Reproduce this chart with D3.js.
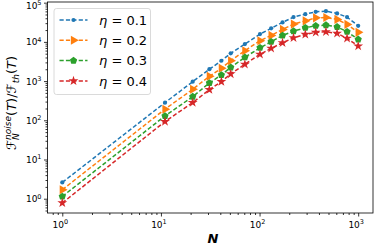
<!DOCTYPE html>
<html lang="en">
<head>
<meta charset="UTF-8">
<title>Noise ratio vs N</title>
<script src="https://cdn.jsdelivr.net/npm/d3@7"></script>
<style>
  body { margin: 0; background: #fff; }
  svg { display: block; font-family: "DejaVu Sans", sans-serif; }
</style>
</head>
<body>
<div id="container"></div>
<script>
// data
const N = [1, 11, 21, 31, 41, 51, 71, 101, 131, 171, 221, 291, 371, 471, 611, 771, 1000];
const eta01 = [2.6, 282, 966, 2010, 3300, 5100, 8790, 15800, 22100, 31400, 42800, 51000, 58400, 60800, 53100, 42800, 25700];
const eta02 = [1.69, 192, 618, 1325, 2120, 3300, 5940, 10700, 14600, 20800, 28400, 34400, 41000, 42000, 37400, 27900, 17500];
const eta03 = [1.14, 129, 401, 895, 1430, 2240, 4040, 7080, 10060, 14600, 18800, 22900, 25700, 26700, 24200, 18100, 11600];
const eta04 = [0.78, 93, 282, 604, 966, 1520, 2680, 4810, 6840, 9490, 12700, 15500, 17500, 18100, 16500, 12300, 7820];
const etaLabels = ["0.1", "0.2", "0.3", "0.4"];
const xTicks = [1, 10, 100, 1000];
const yTicks = [1, 10, 100, 1000, 10000, 100000];

const W = 374, H = 250;
const mLeft = 47.5, mRight = 373, mTop = 2, mBottom = 213;
const colors = ["#1f77b4", "#ff7f0e", "#2ca02c", "#d62728"];

let svg = d3.select("#container").append("svg")
    .attr("width", W).attr("height", H);

let x = d3.scaleLog().domain([0.708, 1413]).range([mLeft, mRight]);
let y = d3.scaleLog().domain([0.432, 1.04e5]).range([mBottom, mTop]);

// minor tick values for a log range
function minors(lo, hi) {
    let out = [];
    for (let e = lo; e <= hi; e++)
        for (let k = 2; k <= 9; k++) out.push(k * Math.pow(10, e));
    return out;
}

// axes
let gx = svg.append("g").attr("transform", "translate(0," + mBottom + ")");
gx.call(d3.axisBottom(x).tickValues(xTicks).tickFormat("").tickSize(3.5).tickSizeOuter(0));
let gxm = svg.append("g").attr("transform", "translate(0," + mBottom + ")");
gxm.call(d3.axisBottom(x).tickValues(minors(-1, 3).filter(v => v > 0.708 && v < 1413)).tickFormat("").tickSize(2).tickSizeOuter(0));

let gy = svg.append("g").attr("transform", "translate(" + mLeft + ",0)");
gy.call(d3.axisLeft(y).tickValues(yTicks).tickFormat("").tickSize(3.5).tickSizeOuter(0));
let gym = svg.append("g").attr("transform", "translate(" + mLeft + ",0)");
gym.call(d3.axisLeft(y).tickValues(minors(-1, 4).filter(v => v > 0.432 && v < 1.04e5)).tickFormat("").tickSize(2).tickSizeOuter(0));

svg.selectAll(".domain").remove();
svg.selectAll(".tick line").attr("stroke", "#000").attr("stroke-width", 0.8);

// power-of-ten labels
xTicks.forEach(v => {
    let t = svg.append("text")
        .attr("x", x(v) - 2).attr("y", mBottom + 15)
        .attr("text-anchor", "middle").attr("font-size", 9).attr("fill", "#000");
    t.append("tspan").text("10");
    t.append("tspan").attr("font-size", 6.5).attr("dy", -4).text(Math.round(Math.log10(v)));
});
yTicks.forEach(v => {
    let t = svg.append("text")
        .attr("x", mLeft - 6).attr("y", Math.max(y(v) + 3.5, 9))
        .attr("text-anchor", "end").attr("font-size", 9).attr("fill", "#000");
    t.append("tspan").text("10");
    t.append("tspan").attr("font-size", 6.5).attr("dy", -3.6).text(Math.round(Math.log10(v)));
});

// series
const series = [eta01, eta02, eta03, eta04];
let line = d3.line().x(d => x(d[0])).y(d => y(d[1]));

let pentagon = {
    draw(ctx, size) {
        let r = Math.sqrt(size / 2.3776);
        for (let i = 0; i < 5; i++) {
            let a = -Math.PI / 2 + i * 2 * Math.PI / 5;
            if (i === 0) ctx.moveTo(r * Math.cos(a), r * Math.sin(a));
            else ctx.lineTo(r * Math.cos(a), r * Math.sin(a));
        }
        ctx.closePath();
    }
};
const markers = [
    { type: d3.symbolCircle, size: 14, rot: 0 },
    { type: d3.symbolTriangle, size: 36, rot: 90 },
    { type: pentagon, size: 34, rot: 0 },
    { type: d3.symbolStar, size: 30, rot: 0 }
];

function drawMarker(g, i, cx, cy) {
    g.append("path")
        .attr("d", d3.symbol().type(markers[i].type).size(markers[i].size)())
        .attr("transform", "translate(" + cx + "," + cy + ") rotate(" + markers[i].rot + ")")
        .attr("fill", colors[i]);
}

series.forEach((vals, i) => {
    let pts = N.map((n, j) => [n, vals[j]]);
    svg.append("path")
        .datum(pts)
        .attr("d", line)
        .attr("fill", "none")
        .attr("stroke", colors[i])
        .attr("stroke-width", 1.5)
        .attr("stroke-dasharray", "4.2,2.2");
    let g = svg.append("g");
    pts.forEach(p => drawMarker(g, i, x(p[0]), y(p[1])));
});

// frame
svg.append("rect")
    .attr("x", mLeft).attr("y", mTop)
    .attr("width", mRight - mLeft).attr("height", mBottom - mTop)
    .attr("fill", "none").attr("stroke", "#000").attr("stroke-width", 0.8);

// legend
let lg = svg.append("g");
lg.append("rect")
    .attr("x", 54).attr("y", 8.5).attr("width", 96.5).attr("height", 86)
    .attr("rx", 2.5).attr("fill", "#fff").attr("fill-opacity", 0.8)
    .attr("stroke", "#d0d0d0").attr("stroke-width", 0.8);
etaLabels.forEach((lab, i) => {
    let cy = 20 + i * 20.3;
    lg.append("line")
        .attr("x1", 59.5).attr("x2", 87.5).attr("y1", cy).attr("y2", cy)
        .attr("stroke", colors[i]).attr("stroke-width", 1.5)
        .attr("stroke-dasharray", "4.2,2.2");
    drawMarker(lg, i, 73.5, cy);
    let t = lg.append("text")
        .attr("x", 99).attr("y", cy + 4.8)
        .attr("font-size", 13).attr("fill", "#000");
    t.append("tspan").attr("font-style", "italic").text("η");
    t.append("tspan").text(" = " + lab);
});

// x label
svg.append("text")
    .attr("x", 213).attr("y", 243)
    .attr("text-anchor", "middle")
    .attr("font-size", 13).attr("font-style", "italic").attr("font-weight", "bold")
    .text("N");

// y label, laid out piece by piece in a rotated group
let yl = svg.append("g").attr("transform", "translate(16,103) rotate(-90)");
const pieces = [
    { t: "ℱ", fs: 13, dy: 0, it: false },
    { t: "noise", fs: 9, dy: -5.5, it: true, stack: "N" },
    { t: "(", fs: 13, dy: 0, it: false },
    { t: "T", fs: 13, dy: 0, it: true },
    { t: ")/", fs: 13, dy: 0, it: false },
    { t: "ℱ", fs: 13, dy: 0, it: false },
    { t: "th", fs: 9, dy: 3, it: true },
    { t: "(", fs: 13, dy: 0, it: false },
    { t: "T", fs: 13, dy: 0, it: true },
    { t: ")", fs: 13, dy: 0, it: false }
];
let cx = 0;
pieces.forEach(p => {
    let el = yl.append("text")
        .attr("x", cx).attr("y", p.dy)
        .attr("font-size", p.fs)
        .attr("font-style", p.it ? "italic" : "normal")
        .attr("fill", "#000").text(p.t);
    let w = el.node().getComputedTextLength();
    if (p.stack) {
        yl.append("text")
            .attr("x", cx).attr("y", 3)
            .attr("font-size", p.fs).attr("font-style", "italic")
            .attr("fill", "#000").text(p.stack);
    }
    cx += w;
});
// center the label on its anchor
yl.selectAll("text").attr("x", function () { return +d3.select(this).attr("x") - cx / 2; });
</script>
</body>
</html>
